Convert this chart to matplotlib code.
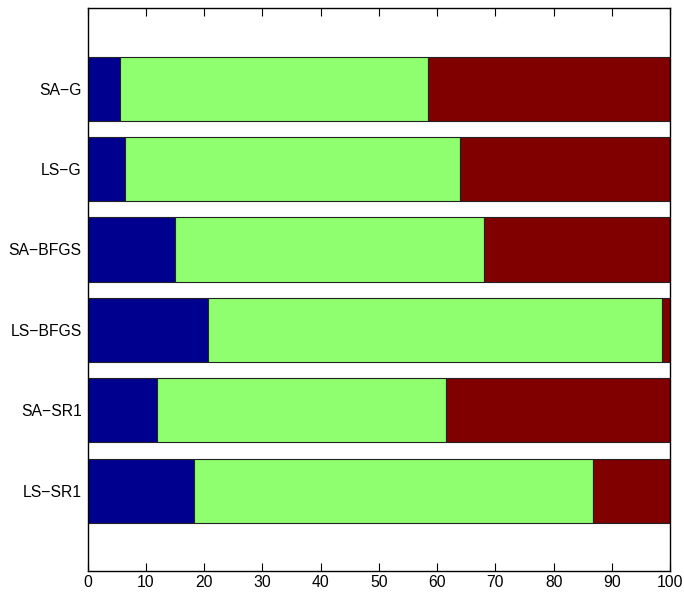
import matplotlib
matplotlib.use("Agg")
import matplotlib.pyplot as plt
import numpy as np

# Methods, listed top to bottom
methods = ["SA\u2212G", "LS\u2212G", "SA\u2212BFGS", "LS\u2212BFGS", "SA\u2212SR1", "LS\u2212SR1"]
# Share of each outcome per method (percent)
part_a = [5.6, 6.4, 15.0, 20.6, 12.0, 18.2]
part_b = [52.8, 57.5, 53.0, 77.9, 49.5, 68.6]
part_c = [41.6, 36.1, 32.0, 1.5, 38.5, 13.2]

colors = ["#00008F", "#8FFF70", "#800000"]

plt.rcParams["font.family"] = ["Liberation Sans", "DejaVu Sans"]
fig = plt.figure(figsize=(6.84, 5.93), dpi=100)
ax = fig.add_axes([0.128, 0.037, 0.852, 0.949])

n = len(methods)
y = np.arange(n, 0, -1)  # first method at the top
left = np.zeros(n)
for vals, c in zip([part_a, part_b, part_c], colors):
    ax.barh(y, vals, left=left, height=0.8, color=c, edgecolor="#222222", linewidth=0.8)
    left += np.array(vals)

ax.set_xlim(0, 100)
ax.set_ylim(0, n + 1)
ax.set_xticks(np.arange(0, 101, 10))
ax.set_yticks(y)
ax.set_yticklabels(methods)
ax.tick_params(axis="x", direction="in", top=True, length=5.5, labelsize=11.3, pad=3)
ax.tick_params(axis="y", length=0, labelsize=11.3, pad=4.3)
for s in ax.spines.values():
    s.set_linewidth(1.0)

fig.savefig("out.png", dpi=100)
